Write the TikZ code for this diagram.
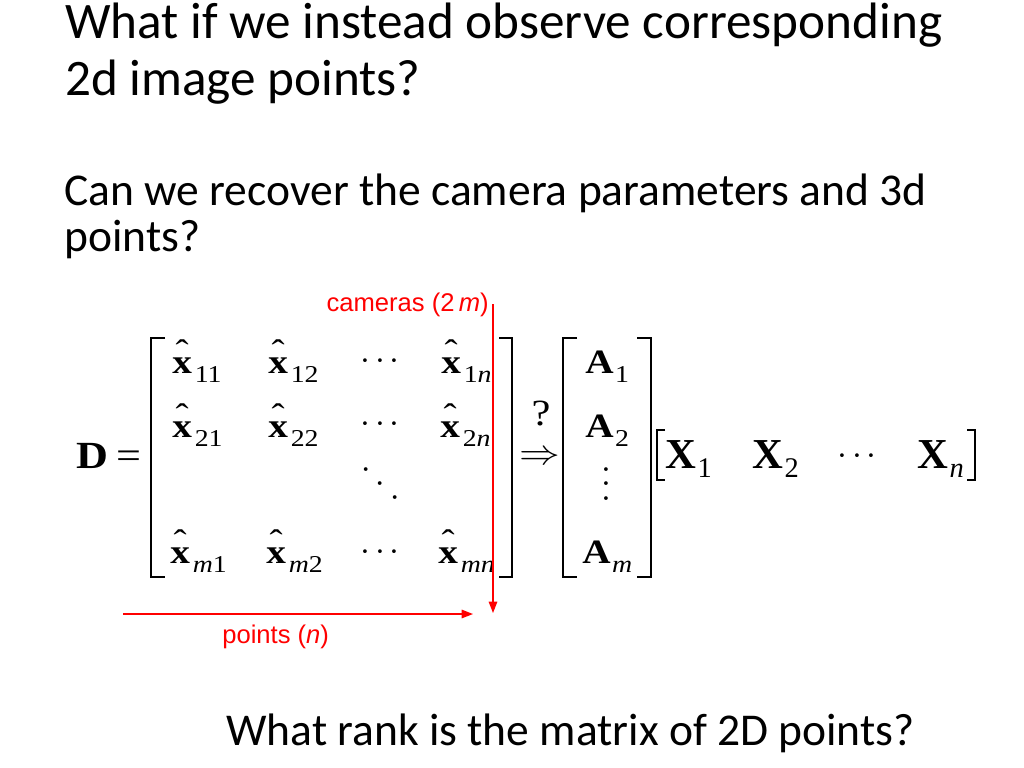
\documentclass[tikz,border=0pt]{standalone}
\usepackage{fontspec}
\setmainfont{Liberation Serif}
\newfontfamily\slidefont{Carlito}
\newfontfamily\labelfont{Liberation Sans}
\newfontfamily\eqfont[FakeStretch=1.15]{Liberation Serif}
\usetikzlibrary{arrows.meta}
\definecolor{slidered}{RGB}{255,0,0}
\newcommand\hatx{\ooalign{\bfseries x\cr\hidewidth\raisebox{7pt}{\char"02C6}\hidewidth\cr}}
\newcommand\xent[1]{\hatx\hspace{2pt}\raisebox{-7pt}{\fontsize{17}{17}\selectfont #1}}
\newcommand\aent[1]{{\bfseries A}\hspace{1pt}\raisebox{-7pt}{\fontsize{17}{17}\selectfont #1}}
\newcommand\bigX[1]{{\bfseries X}\hspace{1pt}\raisebox{-7pt}{\fontsize{20}{20}\selectfont #1}}
\newcommand\dotrow[1]{${\cdot}\mkern#1mu{\cdot}\mkern#1mu{\cdot}$}
\begin{document}
\begin{tikzpicture}[x=0.7031pt,y=-0.7031pt,
	title/.style={font=\slidefont\fontsize{36}{43}\selectfont,anchor=base west,inner sep=0pt},
	body/.style={font=\slidefont\fontsize{32}{38}\selectfont,anchor=base west,inner sep=0pt},
	entry/.style={font=\eqfont\fontsize{24}{24}\selectfont,anchor=base west,inner sep=0pt},
	bigentry/.style={font=\fontsize{30}{30}\selectfont,anchor=base west,inner sep=0pt},
	dotsym/.style={font=\fontsize{24}{24}\selectfont,inner sep=0pt},
	redlbl/.style={font=\labelfont\fontsize{18}{18}\selectfont,text=slidered,inner sep=0pt},
	redarrow/.style={draw=slidered,line width=1pt,-{Triangle[length=8pt,width=6pt]}},
	brack/.style={line width=1.3pt},
	bigbrack/.style={line width=2pt}]
	\fill[white] (0,0) rectangle (1024,768);
	% text of the slide
	\node[title] (title1) at (65,38) {What if we instead observe corresponding};
	\node[title] (title2) at (65,95) {2d image points?};
	\node[body] (ask1) at (64,205) {Can we recover the camera parameters and 3d};
	\node[body] (ask2) at (64,251) {points?};
	\node[body] (rankq) at (226,745) {What rank is the matrix of 2D points?};
	% measurement matrix D
	\node[entry,font=\eqfont\fontsize{27}{27}\selectfont] (dname) at (76,468) {{\bfseries D}\hspace{6pt}=};
	\draw[brack] (165,338) -- (151,338) -- (151,577) -- (165,577);
	\draw[brack] (499,338) -- (512,338) -- (512,577) -- (499,577);
	\node[entry] (x11) at (172,373) {\xent{11}};
	\node[entry] (x12) at (268,373) {\xent{12}};
	\node[dotsym] (r1dots) at (380,362) {\dotrow{2.4}};
	\node[entry] (x1n) at (441,373) {\xent{1\textit{n}}};
	\node[entry] (x21) at (172,437) {\xent{21}};
	\node[entry] (x22) at (268,437) {\xent{22}};
	\node[dotsym] (r2dots) at (380,425) {\dotrow{2.4}};
	\node[entry] (x2n) at (440,437) {\xent{2\textit{n}}};
	\node[dotsym,rotate=-44] (ddots) at (380,484) {\dotrow{5.2}};
	\node[entry] (xm1) at (170,563) {\xent{\textit{m}1}};
	\node[entry] (xm2) at (266,563) {\xent{\textit{m}2}};
	\node[dotsym] (rmdots) at (380,553) {\dotrow{2.4}};
	\node[entry] (xmn) at (438,563) {\xent{\textit{mn}}};
	% implication
	\node[font=\eqfont\fontsize{26}{26}\selectfont,inner sep=0pt] (ask) at (541,414) {?};
	\node[font=\fontsize{24}{24}\selectfont,inner sep=0pt] (implies) at (540,458) {\scalebox{1.15}[1]{$\Rightarrow$}};
	% camera matrices
	\draw[brack] (577,338) -- (563,338) -- (563,577) -- (577,577);
	\draw[brack] (637,338) -- (651,338) -- (651,577) -- (637,577);
	\node[entry] (a1) at (585,373) {\aent{1}};
	\node[entry] (a2) at (585,437) {\aent{2}};
	\node[dotsym,rotate=90] (adots) at (607,484) {\dotrow{2.4}};
	\node[entry] (am) at (582,563) {\aent{\textit{m}}};
	% 3d points
	\draw[bigbrack] (665,430) -- (657,430) -- (657,480) -- (665,480);
	\draw[bigbrack] (967,430) -- (975,430) -- (975,480) -- (967,480);
	\node[bigentry] (x1) at (665,468) {\bigX{1}};
	\node[bigentry] (x2) at (752,468) {\bigX{2}};
	\node[dotsym] (xdots) at (857,457) {\dotrow{2.4}};
	\node[bigentry] (xn) at (917,468) {\bigX{\textit{n}}};
	% red annotations
	\node[redlbl,anchor=base east] (lblcam) at (489,311) {cameras (2\,\textit{m})};
	\node[redlbl,anchor=base west] (lblpts) at (222,643) {points (\textit{n})};
	\coordinate (camend) at (493,613);
	\coordinate (ptsstart) at (123,614);
	\coordinate (ptsend) at (473,614);
	\draw[redarrow] (lblcam.center -| camend) -- (camend);
	\draw[redarrow] (ptsstart) -- (ptsend);
\end{tikzpicture}
\end{document}
